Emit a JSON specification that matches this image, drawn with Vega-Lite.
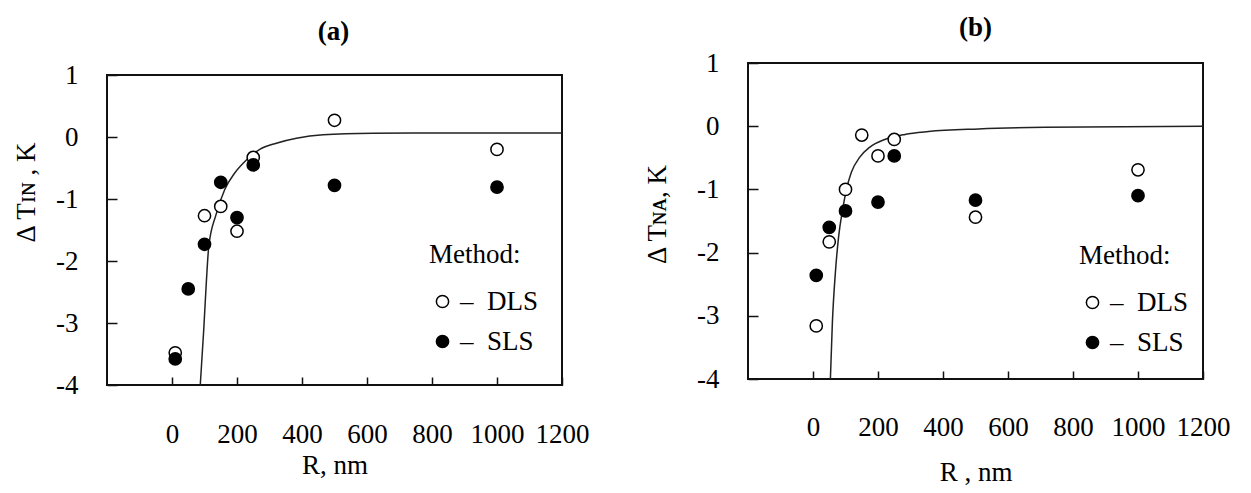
{
  "$schema": "https://vega.github.io/schema/vega-lite/v6.json",
  "padding": {"left": 11, "top": 13, "right": 5, "bottom": 5},
  "background": "white",
  "config": {
    "font": "Liberation Serif",
    "view": {"stroke": "#111", "strokeWidth": 2},
    "axis": {"grid": false, "domain": false, "tickColor": "#111", "tickWidth": 1.5, "labelFont": "Liberation Serif", "labelFontSize": 27, "labelColor": "#000", "titleFont": "Liberation Serif", "titleFontSize": 27, "titleFontWeight": "normal", "titleColor": "#000", "labelFlush": false, "labelOverlap": false},
    "title": {"font": "Liberation Serif", "fontSize": 27, "fontWeight": "bold", "color": "#000"},
    "legend": {"titleFont": "Liberation Serif", "labelFont": "Liberation Serif", "titleFontSize": 27, "labelFontSize": 27, "titleFontWeight": "normal", "titleColor": "#000", "labelColor": "#000", "symbolType": "circle", "symbolSize": 150, "symbolStrokeColor": "#000", "symbolStrokeWidth": 1.5, "rowPadding": 12, "titlePadding": 19, "labelOffset": 4, "padding": 0},
    "concat": {"spacing": 52}
  },
  "hconcat": [
    {
      "title": {"text": "(a)", "offset": 14.5, "anchor": "middle", "frame": "bounds", "dx": 33},
      "spacing": 0,
      "bounds": "flush",
      "vconcat": [
        {
          "width": 455,
          "height": 12,
          "view": {"stroke": null},
          "data": {"values": []},
          "mark": "point"
        },
        {
          "width": 455,
          "height": 310,
          "layer": [
            {
              "data": {"values": [
                {"R": 87, "T": -4}, {"R": 97.5, "T": -3.12}, {"R": 106, "T": -2.31}, {"R": 113, "T": -1.77},
                {"R": 135, "T": -1.26}, {"R": 162, "T": -0.85}, {"R": 193, "T": -0.58}, {"R": 229, "T": -0.37},
                {"R": 270, "T": -0.2}, {"R": 321, "T": -0.1}, {"R": 383, "T": -0.02}, {"R": 465, "T": 0.035},
                {"R": 618, "T": 0.06}, {"R": 800, "T": 0.065}, {"R": 1200, "T": 0.065}
              ]},
              "mark": {"type": "line", "color": "#222", "strokeWidth": 1.5, "interpolate": "monotone", "clip": true},
              "encoding": {
                "x": {"field": "R", "type": "quantitative", "scale": {"domain": [-200, 1200], "nice": false, "zero": false},
                  "axis": {"values": [0, 200, 400, 600, 800, 1000, 1200], "labelExpr": "'' + datum.value", "title": "R, nm", "tickSize": -8, "labelPadding": 57, "labelBaseline": "middle", "titleY": 80, "titleBaseline": "middle"}},
                "y": {"field": "T", "type": "quantitative", "scale": {"domain": [-4, 1], "nice": false, "zero": false},
                  "axis": {"values": [-4, -3, -2, -1, 0, 1], "labelExpr": "'' + datum.value", "title": "Δ Tɪɴ , K", "tickSize": -10, "labelPadding": 39, "titleX": -81, "titleY": 117, "titleBaseline": "middle", "titleAngle": 270}}
              }
            },
            {
              "data": {"values": [
                {"R": 10, "T": -3.48, "Method": "DLS"}, {"R": 100, "T": -1.27, "Method": "DLS"}, {"R": 150, "T": -1.12, "Method": "DLS"},
                {"R": 200, "T": -1.52, "Method": "DLS"}, {"R": 250, "T": -0.33, "Method": "DLS"}, {"R": 500, "T": 0.27, "Method": "DLS"},
                {"R": 1000, "T": -0.2, "Method": "DLS"},
                {"R": 10, "T": -3.58, "Method": "SLS"}, {"R": 50, "T": -2.45, "Method": "SLS"}, {"R": 100, "T": -1.73, "Method": "SLS"},
                {"R": 150, "T": -0.73, "Method": "SLS"}, {"R": 200, "T": -1.3, "Method": "SLS"}, {"R": 250, "T": -0.45, "Method": "SLS"},
                {"R": 500, "T": -0.78, "Method": "SLS"}, {"R": 1000, "T": -0.81, "Method": "SLS"}
              ]},
              "mark": {"type": "point", "shape": "circle", "filled": true, "stroke": "#000", "strokeWidth": 1.5, "size": 150, "opacity": 1},
              "encoding": {
                "x": {"field": "R", "type": "quantitative"},
                "y": {"field": "T", "type": "quantitative"},
                "fill": {"field": "Method", "type": "nominal", "scale": {"domain": ["DLS", "SLS"], "range": ["#fff", "#000"]},
                  "legend": {"title": "Method:", "orient": "none", "legendX": 322, "legendY": 179, "labelExpr": "'– \u00a0' + datum.label",
                    "symbolStrokeColor": "#000", "symbolStrokeWidth": 1.5,
                    "encode": {"symbols": {"update": {"stroke": {"value": "#000"}, "strokeWidth": {"value": 1.5}}}}}}
              }
            }
          ]
        }
      ]
    },
    {
      "width": 455,
      "height": 316,
      "title": {"text": "(b)", "offset": 7},
      "layer": [
        {
          "data": {"values": [
            {"R": 53.5, "T": -4}, {"R": 59.6, "T": -3.11}, {"R": 68.8, "T": -2.32}, {"R": 79, "T": -1.74},
            {"R": 90.5, "T": -1.34}, {"R": 103, "T": -1.0}, {"R": 118, "T": -0.73}, {"R": 144, "T": -0.49},
            {"R": 175, "T": -0.33}, {"R": 221, "T": -0.21}, {"R": 283, "T": -0.13}, {"R": 355, "T": -0.085},
            {"R": 509, "T": -0.043}, {"R": 714, "T": -0.017}, {"R": 1200, "T": 0}
          ]},
          "mark": {"type": "line", "color": "#222", "strokeWidth": 1.5, "interpolate": "monotone", "clip": true},
          "encoding": {
            "x": {"field": "R", "type": "quantitative", "scale": {"domain": [-200, 1200], "nice": false, "zero": false},
              "axis": {"values": [0, 200, 400, 600, 800, 1000, 1200], "labelExpr": "'' + datum.value", "title": "R , nm", "tickSize": -8, "labelPadding": 56, "labelBaseline": "middle", "titleY": 93, "titleBaseline": "middle"}},
            "y": {"field": "T", "type": "quantitative", "scale": {"domain": [-4, 1], "nice": false, "zero": false},
              "axis": {"values": [-4, -3, -2, -1, 0, 1], "labelExpr": "'' + datum.value", "title": "Δ Tɴᴀ, K", "tickSize": -10, "labelPadding": 39, "titleX": -91, "titleY": 151, "titleBaseline": "middle", "titleAngle": 270}}
          }
        },
        {
          "data": {"values": [
            {"R": 10, "T": -3.16, "Method": "DLS"}, {"R": 50, "T": -1.83, "Method": "DLS"}, {"R": 100, "T": -1.0, "Method": "DLS"},
            {"R": 150, "T": -0.14, "Method": "DLS"}, {"R": 200, "T": -0.47, "Method": "DLS"}, {"R": 250, "T": -0.21, "Method": "DLS"},
            {"R": 500, "T": -1.44, "Method": "DLS"}, {"R": 1000, "T": -0.69, "Method": "DLS"},
            {"R": 10, "T": -2.36, "Method": "SLS"}, {"R": 50, "T": -1.6, "Method": "SLS"}, {"R": 100, "T": -1.34, "Method": "SLS"},
            {"R": 200, "T": -1.2, "Method": "SLS"}, {"R": 250, "T": -0.47, "Method": "SLS"}, {"R": 500, "T": -1.17, "Method": "SLS"},
            {"R": 1000, "T": -1.1, "Method": "SLS"}
          ]},
          "mark": {"type": "point", "shape": "circle", "filled": true, "stroke": "#000", "strokeWidth": 1.5, "size": 150, "opacity": 1},
          "encoding": {
            "x": {"field": "R", "type": "quantitative"},
            "y": {"field": "T", "type": "quantitative"},
            "fill": {"field": "Method", "type": "nominal", "scale": {"domain": ["DLS", "SLS"], "range": ["#fff", "#000"]},
              "legend": {"title": "Method:", "orient": "none", "legendX": 331, "legendY": 180, "labelExpr": "'– \u00a0' + datum.label",
                "symbolStrokeColor": "#000", "symbolStrokeWidth": 1.5,
                "encode": {"symbols": {"update": {"stroke": {"value": "#000"}, "strokeWidth": {"value": 1.5}}}}}}
          }
        }
      ]
    }
  ],
  "resolve": {"scale": {"x": "independent", "y": "independent", "fill": "independent"}, "legend": {"fill": "independent"}}
}
